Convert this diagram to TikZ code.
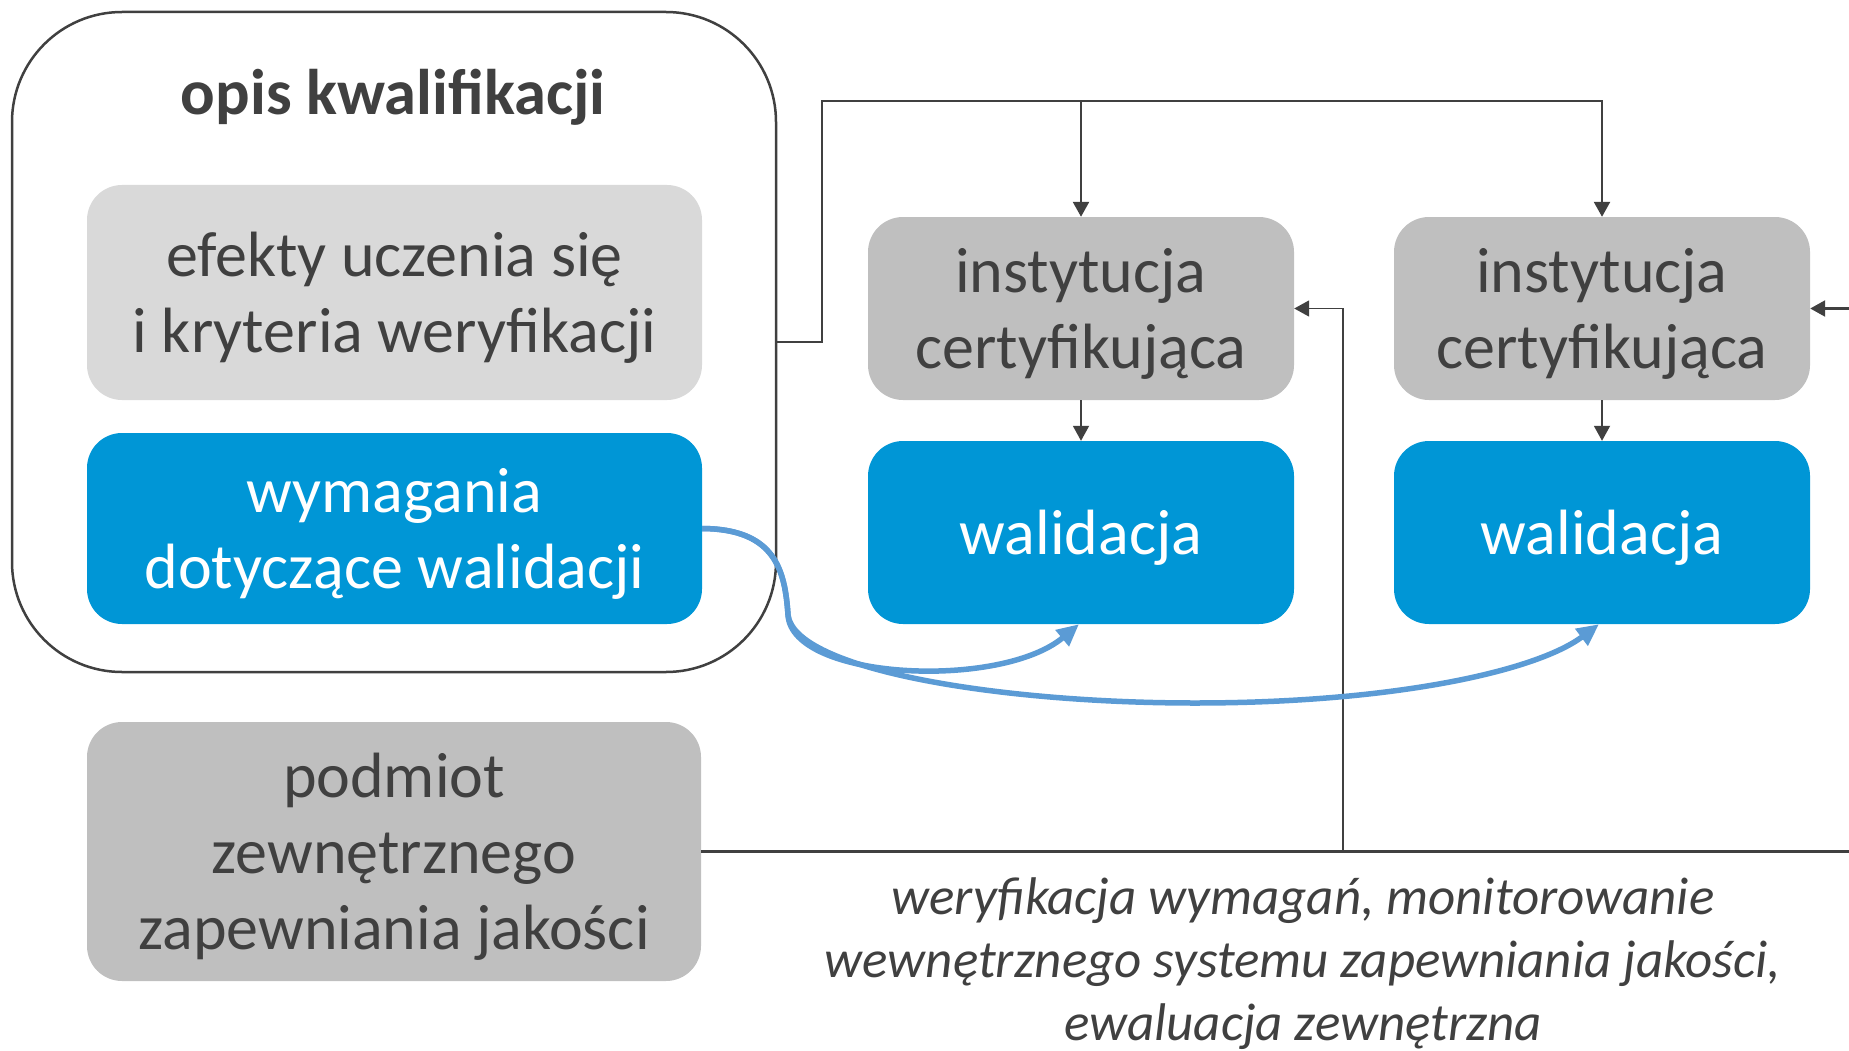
\documentclass[tikz,border=0pt]{standalone}
\usepackage{fontspec}
\setmainfont{Carlito}
\usetikzlibrary{arrows.meta}
\definecolor{txtgrey}{HTML}{404040}
\definecolor{lightbox}{HTML}{D9D9D9}
\definecolor{greybox}{HTML}{BFBFBF}
\definecolor{bluebox}{HTML}{0096D6}
\definecolor{curveblue}{HTML}{5B9BD5}
\tikzset{
  box/.style={rounded corners=35pt, inner sep=0pt},
  lightfill/.style={box, fill=lightbox},
  greyfill/.style={box, fill=greybox},
  bluefill/.style={box, fill=bluebox},
  boxtext/.style={inner sep=0pt, align=center, text=txtgrey, font=\fontsize{64}{76}\selectfont},
  whitetext/.style={boxtext, text=white},
  conn/.style={draw=txtgrey, line width=2.5pt},
  thinconn/.style={draw=txtgrey, line width=1.8pt},
  tip/.style={-{Triangle[length=15pt,width=16pt]}},
  bluearrow/.style={draw=curveblue, line width=5.5pt, -{Triangle[length=22pt,width=20pt]}}
}
\begin{document}
\begin{tikzpicture}[x=1pt,y=-1pt]
\useasboundingbox (0,0) rectangle (1849,1051);
% outer frame
\node[draw=txtgrey, line width=2.5pt, rounded corners=110pt, minimum width=764pt, minimum height=660pt, inner sep=0pt] (opis) at (394,342) {};
\node[text=txtgrey, font=\fontsize{64.5}{76}\selectfont\bfseries] (title) at (393,97) {opis kwalifikacji};
\node[lightfill, minimum width=615pt, minimum height=215pt] (efekty) at (394.5,292.5) {};
\node[boxtext] (efektyt) at ([yshift=-5pt]efekty.center) {efekty uczenia się\\i kryteria weryfikacji};
\node[bluefill, minimum width=615pt, minimum height=191pt] (wym) at (394.5,528.5) {};
\node[whitetext] (wymt) at ([yshift=-5pt]wym.center) {wymagania\\dotyczące walidacji};
\node[greyfill, minimum width=614pt, minimum height=259pt] (podmiot) at (394,851.5) {};
\node[boxtext] (podmiott) at ([yshift=-5pt]podmiot.center) {podmiot\\zewnętrznego\\zapewniania jakości};
% certifying institutions
\node[greyfill, minimum width=426pt, minimum height=183pt] (cert1) at (1081,308.5) {};
\node[boxtext] (cert1t) at ([yshift=-5pt]cert1.center) {instytucja\\certyfikująca};
\node[greyfill, minimum width=416pt, minimum height=183pt] (cert2) at (1602,308.5) {};
\node[boxtext] (cert2t) at ([yshift=-5pt]cert2.center) {instytucja\\certyfikująca};
\node[bluefill, minimum width=426pt, minimum height=183pt] (wal1) at (1081,532.5) {};
\node[whitetext] (wal1t) at ([yshift=-5pt]wal1.center) {walidacja};
\node[bluefill, minimum width=416pt, minimum height=183pt] (wal2) at (1602,532.5) {};
\node[whitetext] (wal2t) at ([yshift=-5pt]wal2.center) {walidacja};
% caption
\node[text=txtgrey, align=center, font=\fontsize{53}{63}\itshape] (caption) at (1303,964) {weryfikacja wymagań, monitorowanie\\wewnętrznego systemu zapewniania jakości,\\ewaluacja zewnętrzna};
% connectors from description
\coordinate (junction) at (822,101);
\draw[conn, tip] (opis.east) -| (junction) -| (cert2.north);
\draw[conn, tip] (junction -| cert1.north) -- (cert1.north);
\draw[thinconn, tip] (cert1.south) -- (wal1.north);
\draw[thinconn, tip] (cert2.south) -- (wal2.north);
% quality assurance connectors
\coordinate (qright) at (1849,851.5);
\coordinate (qbranch) at (1343,851.5);
\coordinate (cert2in) at (1849,308.5);
\draw[conn] (podmiot.east) -- (qright);
\draw[thinconn, tip] (qbranch) |- (cert1.east);
\draw[conn, tip] (cert2in) -- (cert2.east);
% blue curves
\coordinate (bend) at (788,615);
\coordinate (lowpt) at (1195,703);
\draw[bluearrow] (wym.east) .. controls (775,529) and (785,570) .. (bend) .. controls (792,680) and (1000,690) .. ([xshift=-2pt]wal1.south);
\draw[bluearrow] (wym.east) .. controls (775,529) and (785,570) .. (bend) .. controls (795,670) and (1000,703) .. (lowpt) .. controls (1390,703) and (1535,672) .. ([xshift=-3pt]wal2.south);
\end{tikzpicture}
\end{document}
